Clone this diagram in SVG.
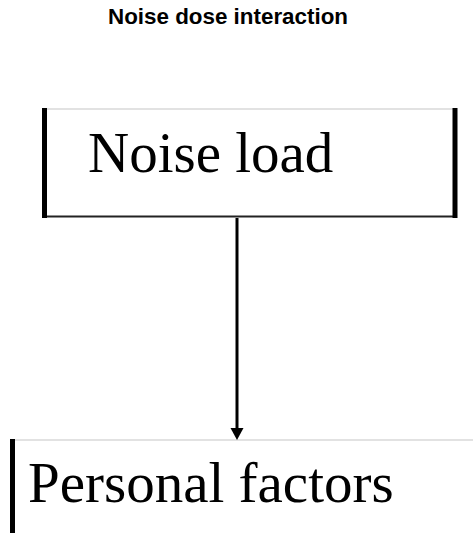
<svg xmlns="http://www.w3.org/2000/svg" width="473" height="533" viewBox="0 0 473 533">
<style>
.bar{stroke:#000;stroke-width:5;fill:none}
.thin{stroke:#d8d8d8;stroke-width:1.5;fill:none}
.label{font-family:"Liberation Serif","Times New Roman",serif;font-size:57px;fill:#000}
.title{font-family:"Liberation Sans",Arial,sans-serif;font-size:22px;font-weight:bold;fill:#000}
</style>
<defs>
<marker id="ah" markerWidth="13" markerHeight="12" refX="6.5" refY="12" orient="auto-start-reverse" markerUnits="userSpaceOnUse" viewBox="0 0 13 12">
<path d="M0,0 L13,0 L6.5,12 Z" fill="#000"/>
</marker>
</defs>
<rect width="473" height="533" fill="#fff"/>
<text class="title" x="108" y="24" textLength="240" lengthAdjust="spacingAndGlyphs">Noise dose interaction</text>
<g id="node-noise-load">
<line class="thin" x1="45" y1="109" x2="455" y2="109"/>
<line x1="45" y1="216.5" x2="455" y2="216.5" stroke="#222" stroke-width="2"/>
<line class="bar" x1="44.5" y1="108" x2="44.5" y2="218"/>
<line class="bar" x1="455" y1="108" x2="455" y2="218"/>
<text class="label" x="88" y="172">Noise load</text>
</g>
<g id="node-personal-factors">
<line class="thin" x1="12" y1="440" x2="473" y2="440"/>
<line class="bar" x1="12.5" y1="439" x2="12.5" y2="533"/>
<text class="label" x="28" y="502">Personal factors</text>
</g>
<g id="connectors">
<line x1="237" y1="218" x2="237" y2="429" stroke="#000" stroke-width="3"/>
<path d="M230.5,428 L243.5,428 L237,440 Z" fill="#000"/>
</g>
</svg>
